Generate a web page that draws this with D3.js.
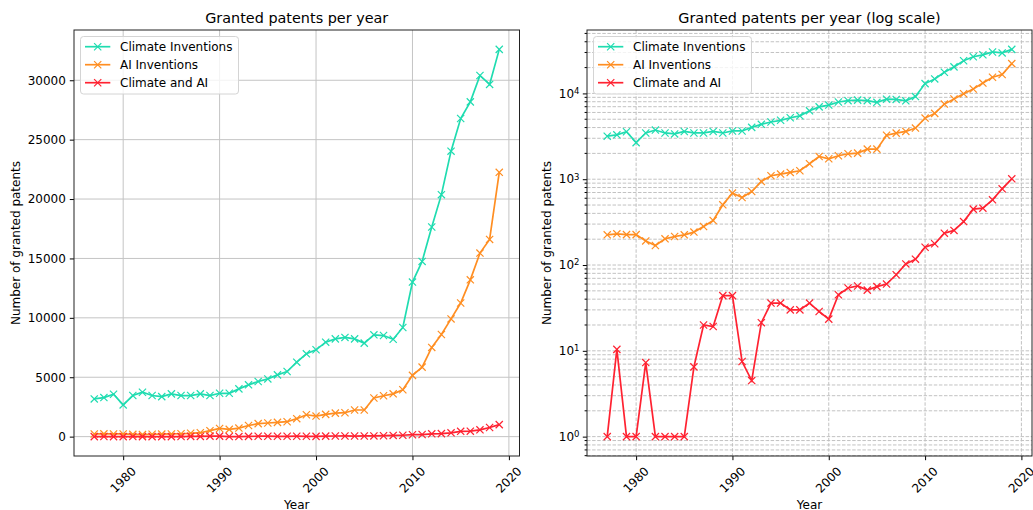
<!DOCTYPE html>
<html>
<head>
<meta charset="utf-8">
<script src="https://cdn.jsdelivr.net/npm/d3@7"></script>
<style>
  body { margin: 0; background: #fff; }
  text { font-family: "DejaVu Sans", sans-serif; fill: #000; }
</style>
</head>
<body>
<svg id="chart"></svg>
<script>
const width = 1033
const height = 510

// data
const years = d3.range(1977, 2020)
const climate = [3175, 3290, 3570, 2670, 3460, 3740, 3460, 3370, 3600, 3460, 3460, 3600, 3460, 3650, 3650,
  4020, 4360, 4640, 4860, 5200, 5480, 6270, 6970, 7310, 7950, 8230, 8350, 8230, 7870, 8570, 8510, 8200,
  9190, 13010, 14750, 17650, 20370, 24030, 26780, 28180, 30400, 29650, 32600]
const ai = [225, 231, 226, 226, 191, 169, 202, 215, 225, 242, 281, 330, 503, 689, 612, 719, 941, 1097,
  1148, 1200, 1256, 1513, 1842, 1730, 1875, 1979, 2014, 2243, 2243, 3250, 3444, 3604, 3944, 5157, 5850,
  7510, 8600, 9910, 11250, 13200, 15450, 16600, 22250]
const climateAI = [1, 10.4, 1, 1, 7.3, 1, 1, 1, 1, 6.5, 20, 19.2, 44, 44, 7.5, 4.5, 21.3, 36, 36, 30, 30,
  36, 28.7, 23.4, 45, 54, 57, 51, 56, 60, 77, 103, 117, 161, 177, 235, 253, 321, 448, 460, 575, 773, 1011]

const seriesNames = ['Climate Inventions', 'AI Inventions', 'Climate and AI']
const seriesColors = ['#1fdcb0', '#ff8e22', '#ff2231']
const seriesValues = [climate, ai, climateAI]
const xTicks = [1980, 1990, 2000, 2010, 2020]
const linTicks = [0, 5000, 10000, 15000, 20000, 25000, 30000]
const logTicks = [0, 1, 2, 3, 4]

const series = seriesNames.map((name, i) => ({
  name: name,
  color: seriesColors[i],
  values: years.map((y, j) => ({ year: y, v: seriesValues[i][j] })),
}))

const svg = d3.select('#chart').attr('width', width).attr('height', height)

function drawPanel(opt) {
  const g = svg.append('g')
  const x = d3.scaleLinear().domain([1974.9, 2021.1]).range([opt.left, opt.right])
  const y = opt.y
  const top = 30
  const bottom = 456

  // grid
  const grid = g.append('g')
  grid.selectAll('line.gx')
    .data(xTicks)
    .join('line')
    .attr('x1', (d) => x(d)).attr('x2', (d) => x(d))
    .attr('y1', top).attr('y2', bottom)
    .attr('stroke', opt.gridColor)
    .attr('stroke-width', 1)
    .attr('stroke-dasharray', opt.dash)
  grid.selectAll('line.gy')
    .data(opt.gridY)
    .join('line')
    .attr('x1', opt.left).attr('x2', opt.right)
    .attr('y1', (d) => y(d)).attr('y2', (d) => y(d))
    .attr('stroke', opt.gridColor)
    .attr('stroke-width', 1)
    .attr('stroke-dasharray', opt.dash)

  // lines and markers
  const line = d3.line().x((d) => x(d.year)).y((d) => y(d.v))
  const clip = 'clip' + opt.id
  svg.append('clipPath').attr('id', clip)
    .append('rect').attr('x', opt.left).attr('y', top)
    .attr('width', opt.right - opt.left).attr('height', bottom - top)
  const plot = g.append('g').attr('clip-path', 'url(#' + clip + ')')
  series.forEach(function (s) {
    plot.append('path')
      .datum(s.values)
      .attr('d', line)
      .attr('fill', 'none')
      .attr('stroke', s.color)
      .attr('stroke-width', 1.7)
    plot.selectAll(null)
      .data(s.values)
      .join('path')
      .attr('d', 'M-3.6,-3.6L3.6,3.6M-3.6,3.6L3.6,-3.6')
      .attr('transform', (d) => 'translate(' + x(d.year) + ',' + y(d.v) + ')')
      .attr('stroke', s.color)
      .attr('stroke-width', 1.2)
  })

  // axes
  const xAxis = g.append('g')
    .attr('transform', 'translate(0,' + bottom + ')')
    .call(d3.axisBottom(x).tickValues(xTicks).tickSize(4.2).tickPadding(4).tickFormat(''))
  xAxis.select('.domain').remove()
  xAxis.selectAll('line').attr('stroke', '#000').attr('stroke-width', 1)
  g.selectAll(null)
    .data(xTicks)
    .join('text')
    .attr('transform', (d) => 'translate(' + x(d) + ',480) rotate(-45)')
    .attr('text-anchor', 'middle')
    .attr('dominant-baseline', 'central')
    .attr('font-size', 12)
    .text((d) => d)

  const yAxis = g.append('g')
    .attr('transform', 'translate(' + opt.left + ',0)')
  opt.yAxis(yAxis)
  yAxis.select('.domain').remove()
  yAxis.selectAll('line').attr('stroke', '#000').attr('stroke-width', 1)
  yAxis.selectAll('text').attr('font-size', 12).attr('font-family', '"DejaVu Sans", sans-serif')

  // frame
  g.append('rect')
    .attr('x', opt.left).attr('y', top)
    .attr('width', opt.right - opt.left).attr('height', bottom - top)
    .attr('fill', 'none').attr('stroke', '#222').attr('stroke-width', 1)

  // titles
  g.append('text')
    .attr('x', (opt.left + opt.right) / 2).attr('y', 23)
    .attr('text-anchor', 'middle').attr('font-size', 14.4)
    .text(opt.title)
  g.append('text')
    .attr('x', (opt.left + opt.right) / 2).attr('y', 509)
    .attr('text-anchor', 'middle').attr('font-size', 12)
    .text('Year')
  g.append('text')
    .attr('transform', 'translate(' + opt.ylabelX + ',' + (top + bottom) / 2 + ') rotate(-90)')
    .attr('text-anchor', 'middle').attr('dominant-baseline', 'central')
    .attr('font-size', 12)
    .text('Number of granted patents')

  // legend
  const lg = g.append('g').attr('transform', 'translate(' + (opt.left + 6.5) + ',36.5)')
  lg.append('rect')
    .attr('width', opt.legendW).attr('height', 57.5)
    .attr('rx', 3)
    .attr('fill', 'rgba(255,255,255,0.8)')
    .attr('stroke', '#d4d4d4').attr('stroke-width', 1)
  series.forEach(function (s, i) {
    const ly = 10.2 + i * 18
    lg.append('line')
      .attr('x1', 4.5).attr('x2', 29.8).attr('y1', ly).attr('y2', ly)
      .attr('stroke', s.color).attr('stroke-width', 1.7)
    lg.append('path')
      .attr('d', 'M-3.6,-3.6L3.6,3.6M-3.6,3.6L3.6,-3.6')
      .attr('transform', 'translate(17.2,' + ly + ')')
      .attr('stroke', s.color).attr('stroke-width', 1.2)
    lg.append('text')
      .attr('x', 39.5).attr('y', ly).attr('dominant-baseline', 'central')
      .attr('font-size', 12)
      .text(s.name)
  })
}

// left panel: linear
const yLin = d3.scaleLinear().domain([-1630, 34230]).range([456, 30])
drawPanel({
  id: 'lin',
  left: 74,
  right: 519.5,
  y: yLin,
  gridY: linTicks,
  gridColor: '#c4c4c4',
  dash: null,
  title: 'Granted patents per year',
  ylabelX: 16,
  legendW: 158,
  yAxis: function (ax) {
    ax.call(d3.axisLeft(yLin).tickValues(linTicks).tickSize(4.2).tickPadding(4).tickFormat(d3.format('d')))
  },
})

// right panel: log
const yLog = d3.scaleLog().domain([Math.pow(10, -0.2257), Math.pow(10, 4.739)]).range([456, 30])
const minorTicks = []
for (let e = -1; e <= 4; e++) {
  for (let m = 2; m <= 9; m++) {
    const v = m * Math.pow(10, e)
    if (v >= yLog.domain()[0] && v <= yLog.domain()[1]) minorTicks.push(v)
  }
}
const majorVals = logTicks.map((e) => Math.pow(10, e))
drawPanel({
  id: 'log',
  left: 587,
  right: 1032,
  y: yLog,
  gridY: majorVals.concat(minorTicks),
  gridColor: '#c2c2c2',
  dash: '3.5,1.6',
  title: 'Granted patents per year (log scale)',
  ylabelX: 547,
  legendW: 158,
  yAxis: function (ax) {
    ax.call(d3.axisLeft(yLog).tickValues(majorVals).tickSize(4.2).tickPadding(4).tickFormat(''))
    ax.selectAll(null)
      .data(minorTicks)
      .join('line')
      .attr('x1', -2.4).attr('x2', 0)
      .attr('y1', (d) => yLog(d)).attr('y2', (d) => yLog(d))
    const lab = ax.selectAll(null)
      .data(logTicks)
      .join('text')
      .attr('x', -7.5)
      .attr('y', (d) => yLog(Math.pow(10, d)))
      .attr('dy', '0.35em')
      .attr('text-anchor', 'end')
    lab.append('tspan').text('10')
    lab.append('tspan').attr('dy', '-0.45em').attr('font-size', 8.5).text((d) => d)
  },
})
</script>
</body>
</html>
